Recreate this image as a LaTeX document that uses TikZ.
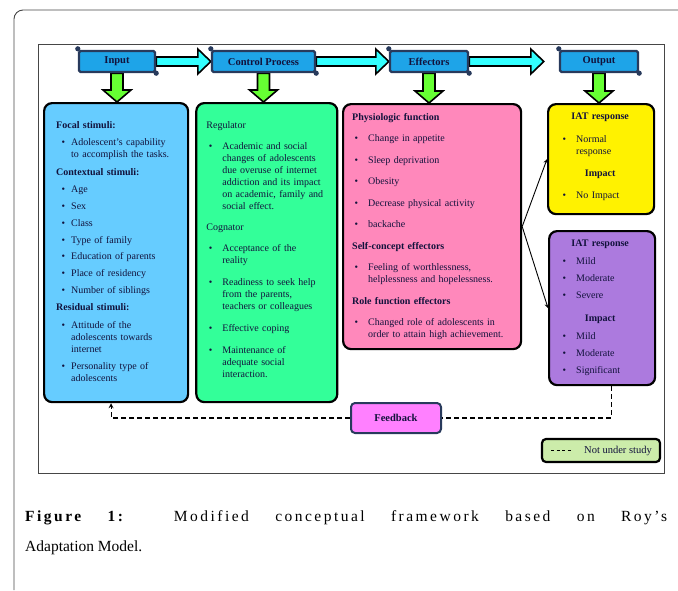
\documentclass[tikz,border=0pt]{standalone}
\usepackage{fontspec}
\setmainfont{Liberation Serif}
\usepackage{enumitem}
\usetikzlibrary{calc,positioning,backgrounds}
\definecolor{hdrblue}{RGB}{30,164,232}
\definecolor{hdredge}{RGB}{40,58,92}
\definecolor{navytxt}{RGB}{18,18,60}
\definecolor{skyfill}{RGB}{102,204,255}
\definecolor{mintfill}{RGB}{51,255,153}
\definecolor{rosefill}{RGB}{255,136,187}
\definecolor{lilacfill}{RGB}{172,122,222}
\definecolor{fbfill}{RGB}{255,128,255}
\definecolor{keyfill}{RGB}{204,236,170}
\definecolor{arrowgreen}{RGB}{102,255,51}
\definecolor{arrowcyan}{RGB}{51,255,255}
\definecolor{framegray}{RGB}{70,70,70}
\newlist{blist}{itemize}{1}
\setlist[blist]{label=\textbullet, leftmargin=15pt, labelsep=6pt, itemsep=4.8pt, topsep=5.5pt, parsep=0pt, partopsep=0pt}
\newcommand{\midhead}[1]{\makebox[\linewidth]{\textbf{#1}}}
\newcommand{\boxlw}{2.2pt}
\tikzset{
    hdrsty/.style={draw=hdredge, line width=2.4pt, fill=hdrblue, rounded corners=1.5pt, minimum height=21pt, inner sep=0pt, font=\fontsize{10.5}{12}\selectfont\bfseries, text=navytxt},
    boxsty/.style={draw=black, line width=\boxlw, rounded corners=8pt, anchor=north west, inner sep=0pt},
    txtsty/.style={anchor=north west, inner sep=0pt, align=left, font=\fontsize{10}{12}\selectfont, text=navytxt},
    downsty/.style={draw=black, line width=1.6pt, fill=arrowgreen, to path={
        ($(\tikztostart)+(-6,0)$) -- ($(\tikztotarget)+(-6,-12)$) -- ($(\tikztotarget)+(-14,-12)$)
        -- (\tikztotarget) -- ($(\tikztotarget)+(14,-12)$) -- ($(\tikztotarget)+(6,-12)$)
        -- ($(\tikztostart)+(6,0)$) -- cycle}},
    rightsty/.style={draw=black, line width=1.6pt, fill=arrowcyan, to path={
        ($(\tikztostart)+(0,-4.5)$) -- ($(\tikztotarget)+(-13,-4.5)$) -- ($(\tikztotarget)+(-13,-12.5)$)
        -- (\tikztotarget) -- ($(\tikztotarget)+(-13,12.5)$) -- ($(\tikztotarget)+(-13,4.5)$)
        -- ($(\tikztostart)+(0,4.5)$) -- cycle}},
    linksty/.style={->, >=stealth, line width=0.9pt},
    fbline/.style={line width=1.2pt, dash pattern=on 5pt off 3pt},
    fbsty/.style={draw=hdredge, line width=2pt, fill=fbfill, rounded corners=4pt, minimum width=90pt, minimum height=30pt, font=\fontsize{10.5}{12}\selectfont\bfseries, text=navytxt},
    keysty/.style={draw=black, line width=\boxlw, fill=keyfill, rounded corners=4pt, minimum width=118pt, minimum height=23pt},
}

\begin{document}
\begin{tikzpicture}[x=1pt, y=-1pt]
  \useasboundingbox (0,0) rectangle (678,590);
  % frames
  \draw[framegray, line width=0.9pt, rounded corners=9pt] (678,10) -- (14,10) -- (14,590);
  \draw[framegray, line width=0.8pt] (38,44) rectangle (664,473);

  % top row
  \node[hdrsty, minimum width=76pt] (in) at (117,61.5) {Input};
  \node[hdrsty, minimum width=103pt] (cp) at (263.5,61.5) {Control Process};
  \node[hdrsty, minimum width=78pt] (ef) at (429,61.5) {Effectors};
  \node[hdrsty, minimum width=78pt] (out) at (599,61.5) {Output};
  \foreach \h in {in,cp,ef,out} {
    \fill[hdredge] ([yshift=1pt]\h.north west) circle (2.6pt);
    \fill[hdredge] (\h.south east) circle (2.6pt);
  }

  % boxes
  \node[boxsty, fill=skyfill, minimum width=144pt, minimum height=299pt] (stim) at (43,102) {};
  \node[boxsty, fill=mintfill, minimum width=141pt, minimum height=299pt, right=6pt of stim.north east, anchor=north west] (ctrl) {};
  \node[boxsty, fill=rosefill, minimum width=178pt, minimum height=245pt] (eff) at (342,103) {};
  \node[boxsty, fill=yellow, minimum width=106pt, minimum height=110pt] (yel) at (547,103) {};
  \node[boxsty, fill=lilacfill, minimum width=106pt, minimum height=154pt] (lil) at (548,230) {};

  \begin{scope}[on background layer]
    \draw[rightsty] (in.east) to (cp.west);
    \draw[rightsty] (cp.east) to (ef.west);
    \draw[rightsty] (ef.east) to ([xshift=-15pt]out.west);
    \draw[downsty] (in.south) to (in.south |- stim.north);
    \draw[downsty] (cp.south) to (cp.south |- ctrl.north);
    \draw[downsty] (ef.south) to (ef.south |- eff.north);
    \draw[downsty] (out.south) to (out.south |- yel.north);
  \end{scope}

  % box texts
  \node[txtsty, text width=128pt] (stimtxt) at ([shift={(13,19)}]stim.north west) {%
    \textbf{Focal stimuli:}
    \begin{blist}
      \item Adolescent's capability\\ to accomplish the tasks.
    \end{blist}
    \textbf{Contextual stimuli:}
    \begin{blist}
      \item Age
      \item Sex
      \item Class
      \item Type of family
      \item Education of parents
      \item Place of residency
      \item Number of siblings
    \end{blist}
    \textbf{Residual stimuli:}
    \begin{blist}
      \item Attitude of the\\ adolescents towards\\ internet
      \item Personality type of\\ adolescents
    \end{blist}};
  \node[txtsty, text width=128pt] (ctrltxt) at ([shift={(11,19)}]ctrl.north west) {%
    Regulator
    \begin{blist}[leftmargin=16pt, labelsep=10pt, itemsep=10pt, topsep=9pt]
      \item Academic and social\\ changes of adolescents\\ due overuse of internet\\ addiction and its impact\\ on academic, family and\\ social effect.
    \end{blist}
    Cognator
    \begin{blist}[leftmargin=16pt, labelsep=10pt, itemsep=10pt, topsep=9pt]
      \item Acceptance of the\\ reality
      \item Readiness to seek help\\ from the parents,\\ teachers or colleagues
      \item Effective coping
      \item Maintenance of\\ adequate social\\ interaction.
    \end{blist}};
  \node[txtsty, text width=170pt] (efftxt) at ([shift={(10,10)}]eff.north west) {%
    \textbf{Physiologic function}
    \begin{blist}[leftmargin=16pt, labelsep=10pt, itemsep=9.5pt, topsep=9.5pt]
      \item Change in appetite
      \item Sleep deprivation
      \item Obesity
      \item Decrease physical activity
      \item backache
    \end{blist}
    \textbf{Self-concept effectors}
    \begin{blist}[leftmargin=16pt, labelsep=10pt, itemsep=9.5pt, topsep=9.5pt]
      \item Feeling of worthlessness,\\ helplessness and hopelessness.
    \end{blist}
    \textbf{Role function effectors}
    \begin{blist}[leftmargin=16pt, labelsep=10pt, itemsep=9.5pt, topsep=9.5pt]
      \item Changed role of adolescents in\\ order to attain high achievement.
    \end{blist}};
  \node[txtsty, text width=88pt] (yeltxt) at ([shift={(9,10)}]yel.north west) {%
    \midhead{IAT response}
    \begin{blist}[leftmargin=20pt, labelsep=10pt, topsep=10.5pt]
      \item Normal\\ response
    \end{blist}
    \midhead{Impact}
    \begin{blist}[leftmargin=20pt, labelsep=10pt, topsep=9.5pt]
      \item No Impact
    \end{blist}};
  \node[txtsty, text width=88pt] (liltxt) at ([shift={(8,10)}]lil.north west) {%
    \midhead{IAT response}
    \begin{blist}[leftmargin=20pt, labelsep=10pt, itemsep=5pt]
      \item Mild
      \item Moderate
      \item Severe
    \end{blist}
    \vspace{6pt}\midhead{Impact}
    \begin{blist}[leftmargin=20pt, labelsep=10pt, itemsep=5pt]
      \item Mild
      \item Moderate
      \item Significant
    \end{blist}};

  % effectors to output
  \draw[linksty] (eff.east) -- (yel.west);
  \draw[linksty] (eff.east) -- (lil.west);

  % feedback loop
  \node[fbsty] (fb) at (396,418) {Feedback};
  \coordinate (fbout) at ([xshift=9pt]lil.south);
  \coordinate (fbin) at ([xshift=-5pt]stim.south);
  \draw[fbline] (fbout) |- (fb.east);
  \draw[fbline, ->, >=stealth] (fb.west) -| (fbin);

  % legend
  \node[keysty] (key) at (601,450.5) {};
  \node[anchor=west, inner sep=0pt, font=\fontsize{10.5}{12}\selectfont, text=navytxt] (keytxt) at ([xshift=-17pt]key.center) {Not under study};
  \draw[line width=1pt, dash pattern=on 3pt off 2.5pt] ([xshift=-33pt]keytxt.west) -- ([xshift=-13pt]keytxt.west);

  % caption
  \node[anchor=north west, inner sep=0pt, text width=642pt, align=justify, font=\fontsize{15.5}{30}\selectfont] (cap) at (25,510) {%
    {\addfontfeature{LetterSpace=16}\textbf{Figure 1:} Modified conceptual framework based on Roy’s}\linebreak Adaptation Model.};
\end{tikzpicture}
\end{document}
